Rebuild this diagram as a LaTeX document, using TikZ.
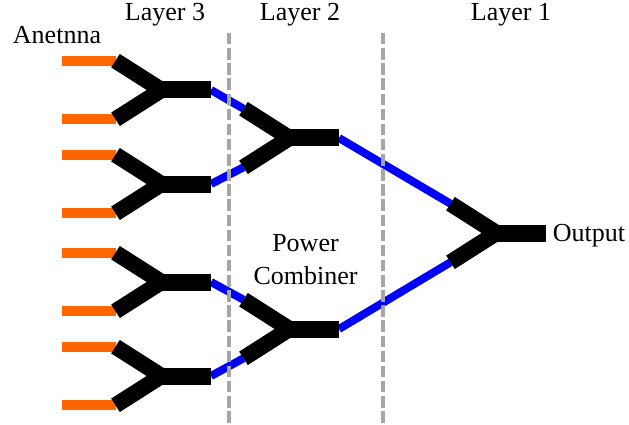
\documentclass[tikz,border=0pt]{standalone}
\usepackage{fontspec}
\setmainfont{Liberation Serif}
\usetikzlibrary{positioning,calc,backgrounds}
\tikzset{
	blackbar/.style={draw=black, line width=17pt},
	blackarm/.style={draw=black, line width=16pt},
	feedline/.style={draw=blue, line width=8pt},
	antline/.style={draw=orange!80!red, line width=10pt},
	layerline/.style={draw=gray!70, line width=4pt, dash pattern=on 11.5pt off 3.63pt},
	tinylabel/.style={font=\fontsize{26}{33}\selectfont, inner sep=0pt, align=center},
	pics/combiner/.style={
		code={
			\coordinate (-up) at (-47.5,-29.3);
			\coordinate (-dn) at (-47.5,29.3);
			\coordinate (-mid) at (-1.5,0);
			\coordinate (-out) at (48,0);
			\path[blackarm] (-up) -- (-mid) -- (-dn);
			\path[blackbar] (-mid) -- (-out);
		}
	}
}
\begin{document}
\begin{tikzpicture}[x=1pt, y=-1pt]
	\useasboundingbox (0,0) rectangle (629,425);
	
	%% -- Free ends of the dashed lines
	\coordinate (lay32top) at (229.3,33);
	\coordinate (lay32bot) at (229.3,423.5);
	\coordinate (lay21top) at (382.5,33);
	\coordinate (lay21bot) at (382.5,423.5);
	
	%% -- Combiners
	\path (163,90) pic (ca) {combiner};
	\path (163,184) pic (cb) {combiner};
	\path (163,282) pic (cc) {combiner};
	\path (163,376) pic (cd) {combiner};
	\path (291,138) pic (ce) {combiner};
	\path (291,329) pic (cf) {combiner};
	\path (498,233) pic (cg) {combiner};
	
	\begin{scope}[on background layer]
		%% -- Antenna feeds
		\foreach \comb in {ca,cb,cc,cd}{
			\coordinate (\comb-upfree) at ($(\comb-up)+(-53.5,0)$);
			\coordinate (\comb-dnfree) at ($(\comb-dn)+(-53.5,0)$);
			\draw[antline] (\comb-upfree) -- (\comb-up);
			\draw[antline] (\comb-dnfree) -- (\comb-dn);
		}
		
		%% -- Blue lines between the layers
		\draw[feedline] (ca-out) -- (ce-up);
		\draw[feedline] (cb-out) -- (ce-dn);
		\draw[feedline] (cc-out) -- (cf-up);
		\draw[feedline] (cd-out) -- (cf-dn);
		\draw[feedline] (ce-out) -- (cg-up);
		\draw[feedline] (cf-out) -- (cg-dn);
	\end{scope}
	
	%% -- Layer boundaries
	\draw[layerline] (lay32top) -- (lay32bot);
	\draw[layerline] (lay21top) -- (lay21bot);
	
	%% -- Labels
	\node[tinylabel] (l3) at (165,14.5) {Layer 3};
	\node[tinylabel] (l2) at (300,14.5) {Layer 2};
	\node[tinylabel] (l1) at (511,14.5) {Layer 1};
	\node[tinylabel] (ant) at (57,35) {Anetnna};
	\node[tinylabel] (outp) at (589,236) {Output};
	\node[tinylabel] (pwr) at (305.5,260) {Power\\Combiner};
\end{tikzpicture}
\end{document}
